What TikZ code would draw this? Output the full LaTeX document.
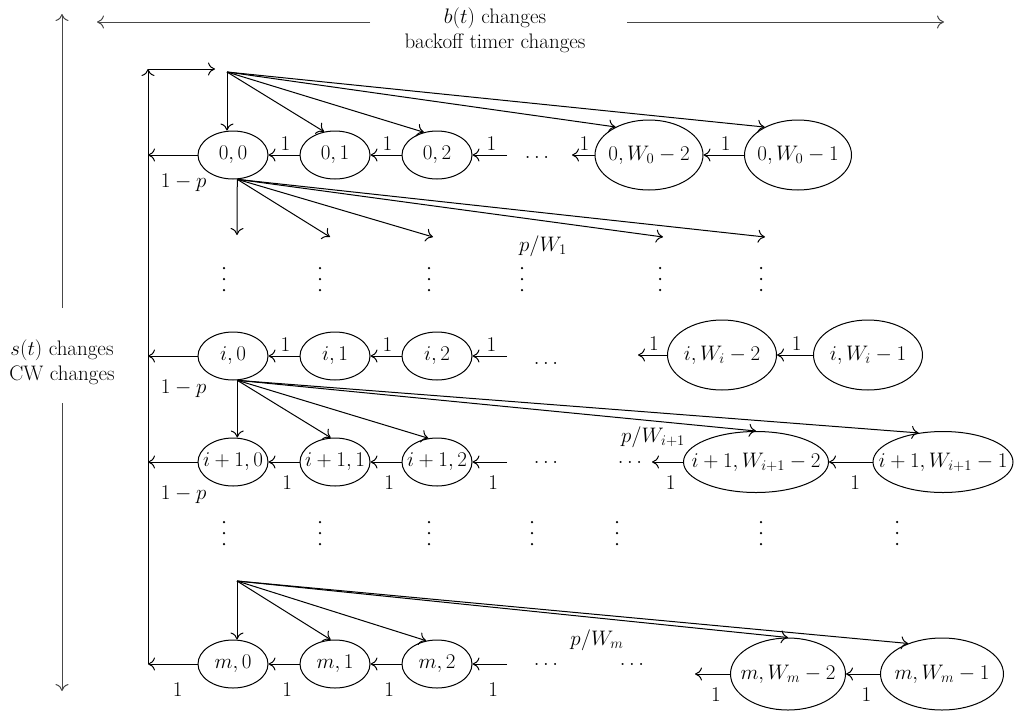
\RequirePackage{fix-cm}
\documentclass[tikz,border=0pt]{standalone}
\usetikzlibrary{arrows.meta,shapes.geometric}
\begin{document}
\begin{tikzpicture}[x=1pt,y=-1pt,line width=1pt,
  every node/.style={font=\fontsize{21}{25}\selectfont},
  st/.style={ellipse,draw,inner xsep=-20pt,inner ysep=0pt,minimum width=70pt,minimum height=48pt},
  arr/.style={-{To[length=7pt,width=13pt]}},
  axis/.style={arr,black!72},
  lab/.style={pos=0.45,yshift=11pt},
  labb/.style={pos=0.4,yshift=-21pt},
  labm/.style={pos=0.4,yshift=-26pt},
  vdot/.style={circle,fill,inner sep=0pt,minimum size=2.5pt}]
\useasboundingbox (0,0) rectangle (1015,710);

% axes
\node[align=center] (bt) at (495,30) {$b(t)$ changes\\backoff timer changes};
\node[align=center] (stt) at (62,362) {$s(t)$ changes\\CW changes};
\coordinate (bL) at (370,22); \coordinate (bLe) at (97,22);
\coordinate (bR) at (627,22); \coordinate (bRe) at (944,22);
\coordinate (sU) at (62,308); \coordinate (sUe) at (62,14);
\coordinate (sD) at (62,403); \coordinate (sDe) at (62,691);
\draw[axis] (bL) -- (bLe);
\draw[axis] (bR) -- (bRe);
\draw[axis] (sU) -- (sUe);
\draw[axis] (sD) -- (sDe);

% states, stage 0
\node[st] (n00) at (233,155) {$0,0$};
\node[st] (n01) at (335,155) {$0,1$};
\node[st] (n02) at (437,155) {$0,2$};
\node[st,minimum width=108pt,minimum height=70pt] (n0a) at (649,155) {$0,W_0-2$};
\node[st,minimum width=107pt,minimum height=70pt] (n0b) at (798,155) {$0,W_0-1$};
% stage i
\node[st] (ni0) at (233,356) {$i,0$};
\node[st] (ni1) at (335,356) {$i,1$};
\node[st] (ni2) at (437,356) {$i,2$};
\node[st,minimum width=109pt,minimum height=70pt] (nia) at (722,355) {$i,W_i-2$};
\node[st,minimum width=109pt,minimum height=70pt] (nib) at (868,355) {$i,W_i-1$};
% stage i+1
\node[st] (nj0) at (233,462) {$i+1,0$};
\node[st] (nj1) at (335,462) {$i+1,1$};
\node[st] (nj2) at (437,462) {$i+1,2$};
\node[st,minimum width=145pt,minimum height=61pt] (nja) at (756,462) {$i+1,W_{i+1}-2$};
\node[st,minimum width=140pt,minimum height=61pt] (njb) at (943,462) {$i+1,W_{i+1}-1$};
% stage m
\node[st] (nm0) at (233,664) {$m,0$};
\node[st] (nm1) at (335,664) {$m,1$};
\node[st] (nm2) at (437,664) {$m,2$};
\node[st,minimum width=115pt,minimum height=72pt] (nma) at (788,674) {$m,W_m-2$};
\node[st,minimum width=123pt,minimum height=72pt] (nmb) at (942,674) {$m,W_m-1$};

% return path to stage 0
\coordinate (L0) at (148,155);
\coordinate (Li) at (148,356);
\coordinate (Lj) at (148,462);
\coordinate (Lm) at (148,664);
\coordinate (T) at (148,69);
\coordinate (E) at (215,69);
\draw[arr] (Lm) -- (T);
\draw[arr] (T) -- (E);
\draw[arr] (n00) -- (L0) node[pos=0.28,yshift=-28pt] {$1-p$};
\draw[arr] (ni0) -- (Li) node[pos=0.28,yshift=-33pt] {$1-p$};
\draw[arr] (nj0) -- (Lj) node[pos=0.28,yshift=-33pt] {$1-p$};
\draw[arr] (nm0) -- (Lm) node[labm] {$1$};

% uniform choice of the stage-0 backoff counter
\coordinate (s0) at (227,72);
\draw[arr] (s0) -- (s0 |- n00.north);
\draw[arr] (s0) -- (n01.115);
\draw[arr] (s0) -- (n02.120);
\draw[arr] (s0) -- (n0a.140);
\draw[arr] (s0) -- (n0b.140);

% stage 0 countdown
\draw[arr] (n01) -- (n00) node[lab] {$1$};
\draw[arr] (n02) -- (n01) node[lab] {$1$};
\coordinate (r0) at (507,155);
\draw[arr] (r0) -- (n02) node[lab] {$1$};
\node (h0) at (537,157) {$\dots$};
\coordinate (l0) at (572,155);
\draw[arr] (n0a) -- (l0) node[lab] {$1$};
\draw[arr] (n0b) -- (n0a) node[lab] {$1$};

% collisions in stage 0
\coordinate (o0) at (n00.280);
\coordinate (d01) at (237,235);
\coordinate (d02) at (330,237);
\coordinate (d03) at (433,237);
\coordinate (d04) at (663,237);
\coordinate (d05) at (765,237);
\foreach \t in {d01,d02,d03,d04,d05} \draw[arr] (o0) -- (\t);
\node (pw1) at (543,246) {$p/W_1$};

% gaps between stages (vertical ellipses)
\foreach \x in {224,320,429,522,660,761}
  \foreach \dy in {-11,0,11}
    \node[vdot] at (\x,279+\dy) {};
\foreach \x in {224,320,429,532,617,761,897}
  \foreach \dy in {-11,0,11}
    \node[vdot] at (\x,533+\dy) {};

% stage i countdown
\draw[arr] (ni1) -- (ni0) node[lab] {$1$};
\draw[arr] (ni2) -- (ni1) node[lab] {$1$};
\coordinate (ri) at (507,356);
\draw[arr] (ri) -- (ni2) node[lab] {$1$};
\node (hi) at (546,363) {$\dots$};
\coordinate (li) at (638,355);
\draw[arr] (nia) -- (li) node[lab] {$1$};
\draw[arr] (nib) -- (nia) node[lab] {$1$};

% collisions in stage i
\coordinate (oi) at (ni0.280);
\draw[arr] (oi) -- (oi |- nj0.north);
\draw[arr] (oi) -- (nj1.100);
\draw[arr] (oi) -- (nj2.110);
\draw[arr] (oi) -- (nja.north);
\draw[arr] (oi) -- (njb.130);
\node (pwi) at (653,437) {$p/W_{i+1}$};

% stage i+1 countdown
\draw[arr] (nj1) -- (nj0) node[labb] {$1$};
\draw[arr] (nj2) -- (nj1) node[labb] {$1$};
\coordinate (rj) at (507,462);
\draw[arr] (rj) -- (nj2) node[labb] {$1$};
\node (hj1) at (546,462) {$\dots$};
\node (hj2) at (630,462) {$\dots$};
\coordinate (lj) at (652,462);
\draw[arr] (nja) -- (lj) node[labb] {$1$};
\draw[arr] (njb) -- (nja) node[labb] {$1$};

% entry into stage m
\coordinate (sm) at (237,581);
\draw[arr] (sm) -- (sm |- nm0.north);
\draw[arr] (sm) -- (nm1.100);
\draw[arr] (sm) -- (nm2.115);
\draw[arr] (sm) -- (nma.north);
\draw[arr] (sm) -- (nmb.138);
\node (pwm) at (597,640) {$p/W_m$};

% stage m countdown
\draw[arr] (nm1) -- (nm0) node[labm] {$1$};
\draw[arr] (nm2) -- (nm1) node[labm] {$1$};
\coordinate (rm) at (507,664);
\draw[arr] (rm) -- (nm2) node[labm] {$1$};
\node (hm1) at (546,664) {$\dots$};
\node (hm2) at (632,664) {$\dots$};
\coordinate (lm) at (695,674);
\draw[arr] (nma) -- (lm) node[labb] {$1$};
\draw[arr] (nmb) -- (nma) node[labb] {$1$};
\end{tikzpicture}
\end{document}
